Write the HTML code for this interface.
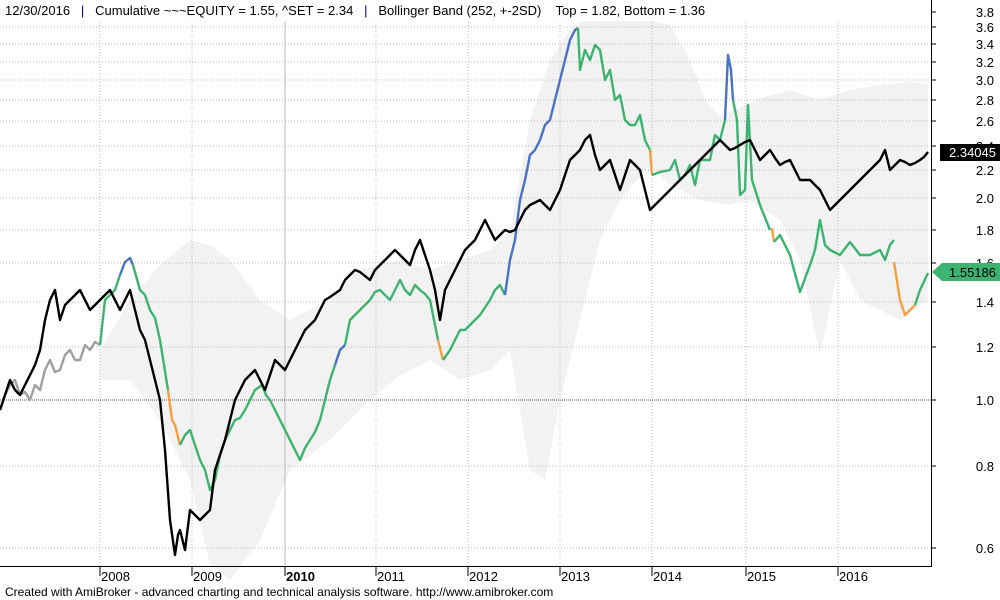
<!DOCTYPE html>
<html><head><meta charset="utf-8"><style>
html,body{margin:0;padding:0;background:#fff;}
svg{display:block;font-family:"Liberation Sans",sans-serif;}
</style></head><body>
<svg width="1000" height="600" viewBox="0 0 1000 600" xmlns="http://www.w3.org/2000/svg">
<rect width="1000" height="600" fill="#fff"/>
<!-- band -->
<polygon fill="#f2f2f2" points="100,350 130,300 160,265 190,240 210,245 230,260 260,300 290,320 330,300 360,270 400,260 430,270 460,260 490,250 510,230 530,120 550,60 570,30 585,18 640,18 670,25 690,60 705,100 720,115 735,110 760,98 790,90 820,100 850,90 880,85 910,82 928,84 928,300 900,320 880,310 860,300 840,260 820,355 800,260 780,220 750,200 730,205 700,200 670,185 650,165 620,200 600,240 580,320 560,400 545,480 530,470 510,350 490,370 460,380 430,360 400,375 370,400 330,440 290,470 260,540 230,580 210,565 190,480 160,420 130,380 100,380"/>
<!-- grid -->
<g stroke="#b8b8b8" stroke-dasharray="1,2" stroke-width="1">
<line x1="0" x2="931" y1="12" y2="12"/><line x1="0" x2="931" y1="27" y2="27"/><line x1="0" x2="931" y1="44" y2="44"/><line x1="0" x2="931" y1="62" y2="62"/><line x1="0" x2="931" y1="80" y2="80"/><line x1="0" x2="931" y1="100" y2="100"/><line x1="0" x2="931" y1="121" y2="121"/><line x1="0" x2="931" y1="146" y2="146"/><line x1="0" x2="931" y1="170" y2="170"/><line x1="0" x2="931" y1="198" y2="198"/><line x1="0" x2="931" y1="230" y2="230"/><line x1="0" x2="931" y1="263" y2="263"/><line x1="0" x2="931" y1="302" y2="302"/><line x1="0" x2="931" y1="347" y2="347"/><line x1="0" x2="931" y1="466" y2="466"/><line x1="0" x2="931" y1="548" y2="548"/>
<line x1="100" x2="100" y1="22" y2="566"/><line x1="192" x2="192" y1="22" y2="566"/><line x1="376" x2="376" y1="22" y2="566"/><line x1="468" x2="468" y1="22" y2="566"/><line x1="560" x2="560" y1="22" y2="566"/><line x1="652" x2="652" y1="22" y2="566"/><line x1="746" x2="746" y1="22" y2="566"/><line x1="838" x2="838" y1="22" y2="566"/>
</g>
<line x1="285" x2="285" y1="22" y2="566" stroke="#bbb"/>
<line x1="0" x2="931" y1="400" y2="400" stroke="#555" stroke-dasharray="1,1"/>
<!-- equity -->
<g fill="none" stroke-width="2.4" stroke-linejoin="round">
<polyline stroke="#a0a0a0" points="0,410 5,395 10,385 15,380 20,395 25,392 30,400 35,385 40,390 45,370 50,360 55,372 60,370 65,355 70,350 75,360 80,360 85,345 90,350 95,342 100,345"/>
<polyline stroke="#3cb371" points="100,345 105,300 110,295 115,290 120,275"/>
<polyline stroke="#4a72c4" points="120,275 125,262 130,258 133,265"/>
<polyline stroke="#3cb371" points="133,265 140,290 145,295 150,310 155,318 160,340 168,390"/>
<polyline stroke="#f5a040" points="168,390 172,420 175,425 180,445"/>
<polyline stroke="#3cb371" points="180,445 185,435 190,430 195,445 200,460 205,470 210,490 215,480 220,455 225,440 230,430 235,420 240,418 245,410 250,400 255,390 262,385 266,395 270,400 275,410 280,420 285,430 290,440 295,450 300,460 305,448 310,440 315,432 320,420 325,400 330,380 335,365"/>
<polyline stroke="#4a72c4" points="335,365 340,350 345,345"/>
<polyline stroke="#3cb371" points="345,345 350,320 355,315 360,310 365,305 370,300 375,292 380,290 385,295 390,300 395,290 400,280 405,290 410,295 415,285 420,290 425,294 430,300 438,340"/>
<polyline stroke="#f5a040" points="438,340 443,360"/>
<polyline stroke="#3cb371" points="443,360 450,350 455,340 460,330 465,330 475,320 480,315 490,300 495,290 500,285 505,295"/>
<polyline stroke="#4a72c4" points="505,295 510,260 515,240 520,200 525,180 530,155 535,150 540,140 545,125 550,120 555,100 560,80 565,60 570,40 575,30 578,28"/>
<polyline stroke="#3cb371" points="578,28 580,70 585,50 590,60 595,45 600,50 605,80 610,70 615,100 620,95 625,120 630,125 635,125 640,115 645,140 650,150"/>
<polyline stroke="#f5a040" points="650,150 652,175"/>
<polyline stroke="#3cb371" points="652,175 660,172 670,170 675,160 680,180 685,175 690,165 695,185 700,160 710,160 715,135 720,140 725,120"/>
<polyline stroke="#4a72c4" points="725,120 728,55 731,70 733,100"/>
<polyline stroke="#3cb371" points="733,100 737,120 740,195 745,190 748,105 752,180 760,205 770,230"/>
<polyline stroke="#f5a040" points="772,228 774,242"/>
<polyline stroke="#3cb371" points="774,242 780,235 790,255 800,292 810,265 815,250 820,220 825,245 830,250 840,255 850,242 860,255 870,255 880,250 885,260 890,245 894,240"/>
<polyline stroke="#f5a040" points="894,262 900,300 905,315 915,305"/>
<polyline stroke="#3cb371" points="915,305 920,290 928,273"/>
</g>
<!-- SET -->
<polyline fill="none" stroke="#000" stroke-width="2.4" stroke-linejoin="round" points="0,410 5,395 10,380 15,390 20,395 25,385 30,375 35,365 40,350 45,320 50,300 55,290 60,320 65,305 70,300 75,295 80,290 85,300 90,310 95,305 100,300 105,295 110,290 115,300 120,310 125,300 130,290 135,310 140,330 145,340 150,360 155,380 160,400 165,450 170,520 175,555 178,535 180,530 185,550 190,510 195,515 200,520 205,515 210,510 215,470 220,455 225,440 230,420 235,400 240,390 245,380 250,375 255,370 260,380 265,390 270,375 275,360 280,365 285,370 290,360 295,350 300,340 305,330 310,325 315,320 320,310 325,300 330,297 340,290 345,280 350,275 355,270 360,272 365,276 370,280 375,270 380,265 385,260 390,255 395,250 400,255 405,260 410,265 415,250 420,240 425,255 430,270 435,290 440,320 445,290 450,280 455,270 460,260 465,250 470,245 475,240 480,230 485,220 490,230 495,240 500,235 505,230 510,232 515,230 520,220 525,210 530,205 540,200 545,205 550,210 555,200 560,190 565,175 570,160 575,155 580,150 585,140 590,135 595,155 600,170 605,165 610,160 615,175 620,190 625,175 630,160 635,165 640,170 645,190 650,210 655,205 660,200 665,195 670,190 675,185 680,180 685,175 690,170 695,165 700,160 705,155 710,150 715,145 720,140 725,145 730,150 735,148 740,145 745,142 750,140 755,150 760,160 765,155 770,150 775,158 780,165 785,162 790,160 795,170 800,180 805,180 810,180 815,185 820,190 825,200 830,210 835,205 840,200 845,195 850,190 855,185 860,180 865,175 870,170 875,165 880,160 885,150 890,170 895,165 900,160 905,162 910,165 915,163 920,160 924,157 928,152"/>
<!-- axes -->
<line x1="931.5" x2="931.5" y1="0" y2="566" stroke="#000"/>
<line x1="0" x2="932" y1="566.5" y2="566.5" stroke="#000"/>
<g stroke="#000">
<line x1="931" x2="936" y1="12" y2="12"/><line x1="931" x2="936" y1="27" y2="27"/><line x1="931" x2="936" y1="44" y2="44"/><line x1="931" x2="936" y1="62" y2="62"/><line x1="931" x2="936" y1="80" y2="80"/><line x1="931" x2="936" y1="100" y2="100"/><line x1="931" x2="936" y1="121" y2="121"/><line x1="931" x2="936" y1="146" y2="146"/><line x1="931" x2="936" y1="170" y2="170"/><line x1="931" x2="936" y1="198" y2="198"/><line x1="931" x2="936" y1="230" y2="230"/><line x1="931" x2="936" y1="263" y2="263"/><line x1="931" x2="936" y1="302" y2="302"/><line x1="931" x2="936" y1="347" y2="347"/><line x1="931" x2="936" y1="400" y2="400"/><line x1="931" x2="936" y1="466" y2="466"/><line x1="931" x2="936" y1="548" y2="548"/>
<line x1="100" x2="100" y1="566" y2="576"/><line x1="192" x2="192" y1="566" y2="576"/><line x1="285" x2="285" y1="566" y2="576"/><line x1="376" x2="376" y1="566" y2="576"/><line x1="468" x2="468" y1="566" y2="576"/><line x1="560" x2="560" y1="566" y2="576"/><line x1="652" x2="652" y1="566" y2="576"/><line x1="746" x2="746" y1="566" y2="576"/><line x1="838" x2="838" y1="566" y2="576"/>
</g>
<g font-size="13" fill="#000" text-anchor="end">
<text x="994" y="17">3.8</text><text x="994" y="32">3.6</text><text x="994" y="49">3.4</text><text x="994" y="67">3.2</text><text x="994" y="85">3.0</text><text x="994" y="105">2.8</text><text x="994" y="126">2.6</text><text x="994" y="151">2.4</text><text x="994" y="175">2.2</text><text x="994" y="203">2.0</text><text x="994" y="235">1.8</text><text x="994" y="268">1.6</text><text x="994" y="307">1.4</text><text x="994" y="352">1.2</text><text x="994" y="405">1.0</text><text x="994" y="471">0.8</text><text x="994" y="553">0.6</text>
</g>
<rect x="940" y="144" width="60" height="17" fill="#000"/>
<text x="996" y="157" font-size="13" fill="#fff" text-anchor="end">2.34045</text>
<polygon points="932,272 942,263 1000,263 1000,281 942,281" fill="#3cb371"/>
<text x="996" y="277" font-size="13" fill="#000" text-anchor="end">1.55186</text>
<g font-size="13" fill="#000">
<text x="101" y="581">2008</text><text x="193" y="581">2009</text><text x="286" y="581" font-weight="bold">2010</text><text x="377" y="581">2011</text><text x="469" y="581">2012</text><text x="561" y="581">2013</text><text x="653" y="581">2014</text><text x="747" y="581">2015</text><text x="839" y="581">2016</text>
</g>
<rect x="0" y="0" width="931" height="21" fill="#fff"/>
<text x="5" y="15" font-size="13" fill="#000" style="white-space:pre">12/30/2016   <tspan fill="#000080">|</tspan>   Cumulative ~~~EQUITY = 1.55, ^SET = 2.34   <tspan fill="#000080">|</tspan>   Bollinger Band (252, +-2SD)    Top = 1.82, Bottom = 1.36</text>
<text x="5" y="596" font-size="12" fill="#000">Created with AmiBroker - advanced charting and technical analysis software. http://www.amibroker.com</text>
</svg>
</body></html>
